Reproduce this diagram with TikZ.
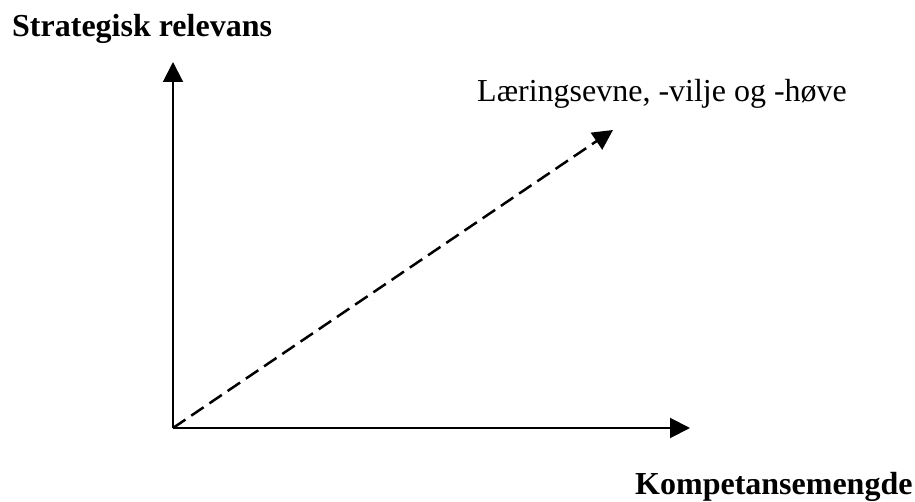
\documentclass[tikz,border=0pt]{standalone}
\usepackage{fontspec}
\setmainfont{Liberation Serif}
\usetikzlibrary{arrows.meta}
\begin{document}
\begin{tikzpicture}[x=1pt,y=-1pt,
  axis/.style={line width=2pt,-{Triangle[length=20pt,width=20pt]}},
  dashline/.style={line width=2.5pt,dash pattern=on 15pt off 7pt,-{Triangle[length=20pt,width=20pt]}},
  lbl/.style={inner sep=0pt,anchor=base west,font=\fontsize{32}{36}\selectfont}]
\useasboundingbox (0,0) rectangle (915,502);
\coordinate (O) at (173,428);
\coordinate (Ytip) at (173,62);
\coordinate (Xtip) at (690,428);
\coordinate (Dtip) at (613,130);
\draw[axis] (O) -- (Ytip);
\draw[axis] (O) -- (Xtip);
\draw[dashline] (O) -- (Dtip);
\node[lbl,font=\fontsize{32}{36}\selectfont\bfseries] (ylab) at (12,37) {Strategisk relevans};
\node[lbl,font=\fontsize{32}{36}\selectfont\bfseries] (xlab) at (635,494) {Kompetansemengde};
\node[lbl] (dlab) at (477,102) {Læringsevne, -vilje og -høve};
\end{tikzpicture}
\end{document}
